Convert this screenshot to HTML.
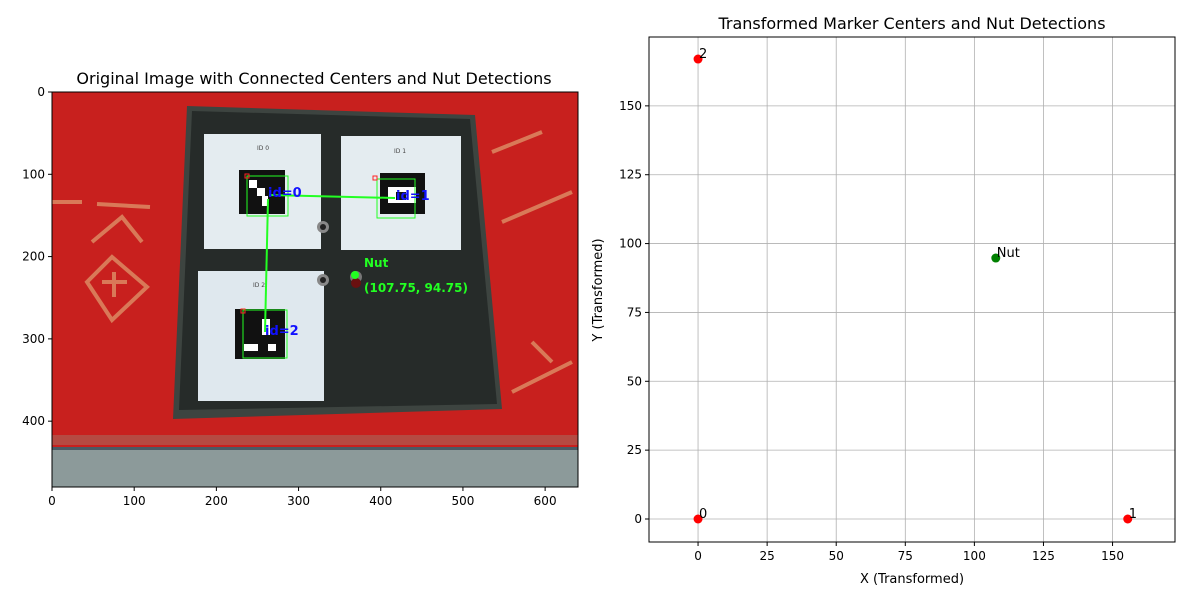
<!DOCTYPE html>
<html><head><meta charset="utf-8"><style>
body{margin:0;background:#fff;font-family:"Liberation Sans","DejaVu Sans",sans-serif}
svg text{font-family:"DejaVu Sans","Liberation Sans",sans-serif}
</style></head><body>
<svg id="fig" width="1200" height="600" xmlns="http://www.w3.org/2000/svg">
<rect width="1200" height="600" fill="#fff"/>
<text x="314" y="84" font-size="16" text-anchor="middle">Original Image with Connected Centers and Nut Detections</text>
<g transform="translate(52,92)">
  <rect width="526" height="395" fill="#c8201e"/>
  <rect y="343" width="526" height="10" fill="#b54a42"/>
  <rect y="355" width="526" height="40" fill="#8c9a9a"/>
  <rect y="355" width="526" height="3" fill="#4a5a64"/>
  <g fill="none" stroke="#e0a070" stroke-width="4" opacity="0.7">
    <path d="M0,110 L30,110 M45,112 L98,115 M40,150 L70,125 L90,150 M35,190 L60,165 L95,195 L60,228 Z M50,190 L75,190 M62,180 L62,205"/>
    <path d="M440,60 L490,40 M450,130 L520,100 M460,300 L520,270 M480,250 L500,270"/>
  </g>
  <polygon points="135,14 423,23 450,317 121,327" fill="#3d4440"/>
  <polygon points="140,19 418,27 445,312 127,318" fill="#262b29"/>
  <rect x="152" y="42" width="117" height="115" fill="#e4ecf0"/>
  <rect x="289" y="44" width="120" height="114" fill="#e4ecf0"/>
  <rect x="146" y="179" width="126" height="130" fill="#dfe8ee"/>
  <text x="205" y="58" font-size="6" fill="#444">ID 0</text>
  <text x="342" y="61" font-size="6" fill="#444">ID 1</text>
  <text x="201" y="195" font-size="6" fill="#444">ID 2</text>
  <rect x="187" y="78" width="46" height="44" fill="#111"/>
  <rect x="197" y="88" width="8" height="8" fill="#fff"/><rect x="205" y="96" width="8" height="8" fill="#fff"/><rect x="210" y="104" width="6" height="10" fill="#fff"/>
  <rect x="328" y="81" width="45" height="41" fill="#111"/>
  <rect x="336" y="95" width="28" height="16" fill="#fff"/><rect x="344" y="100" width="10" height="8" fill="#111"/>
  <rect x="183" y="217" width="50" height="50" fill="#111"/>
  <rect x="210" y="227" width="8" height="16" fill="#fff"/><rect x="192" y="252" width="14" height="7" fill="#fff"/><rect x="216" y="252" width="8" height="7" fill="#fff"/>
  <g fill="none" stroke="#2f2" stroke-width="1">
    <rect x="195" y="84" width="41" height="40"/><rect x="325" y="87" width="38" height="39"/><rect x="191" y="218" width="44" height="48"/>
  </g>
  <g fill="none" stroke="#f22" stroke-width="1"><rect x="193" y="82" width="4" height="4"/><rect x="321" y="84" width="4" height="4"/><rect x="189" y="217" width="4" height="4"/></g>
  <polyline points="217,103 343,106" stroke="#2f2" stroke-width="2" fill="none"/>
  <polyline points="216,107 213,240" stroke="#2f2" stroke-width="2" fill="none"/>
  <circle cx="271" cy="135" r="6" fill="#888"/><circle cx="271" cy="135" r="3" fill="#222"/>
  <circle cx="271" cy="188" r="6" fill="#888"/><circle cx="271" cy="188" r="3" fill="#222"/>
  <circle cx="304" cy="185" r="6" fill="#777"/><circle cx="304" cy="191" r="5" fill="#6a1010"/>
  <circle cx="303" cy="183" r="4" fill="#2f2"/>
  <g font-weight="bold" font-size="13" fill="#11f">
    <text x="216" y="105">id=0</text>
    <text x="344" y="108">id=1</text>
    <text x="213" y="243">id=2</text>
  </g>
  <g font-weight="bold" font-size="12" fill="#2f2">
    <text x="312" y="175">Nut</text>
    <text x="312" y="200">(107.75, 94.75)</text>
  </g>
</g>
<rect x="52" y="92" width="526" height="395" fill="none" stroke="#000" stroke-width="1"/>
<g id="leftTicks"></g>
<text x="912" y="29" font-size="16" text-anchor="middle">Transformed Marker Centers and Nut Detections</text>
<g id="grid"></g>
<g id="marks"></g>
<rect x="649" y="37" width="526" height="505" fill="none" stroke="#000" stroke-width="1"/>
<g id="rightTicks"></g>
<text x="912" y="583" font-size="13" text-anchor="middle">X (Transformed)</text>
<text transform="translate(602,290) rotate(-90)" font-size="13" text-anchor="middle">Y (Transformed)</text>
</svg>
<script>
const leftXTicks=[0,100,200,300,400,500,600];
const leftYTicks=[0,100,200,300,400];
const xTicks=[0,25,50,75,100,125,150];
const yTicks=[0,25,50,75,100,125,150];
const markerLabels=["0","1","2"];
const markerX=[0,155.5,0];
const markerY=[0,0,167];
const nutLabels=["Nut"];
const nutX=[107.75];
const nutY=[94.75];
const NS="http://www.w3.org/2000/svg";
function mk(t,a,p){const e=document.createElementNS(NS,t);for(const k in a)e.setAttribute(k,a[k]);p.appendChild(e);return e;}
const lx=v=>52+v*526/640, ly=v=>92+v*395/480;
const sx=v=>649+(v+17.75)*526/(172.6+17.75), sy=v=>542-(v+8.35)*505/(175+8.35);
const lt=document.getElementById('leftTicks');
leftXTicks.forEach(v=>{const x=lx(v);mk('line',{x1:x,x2:x,y1:487,y2:491,stroke:'#000'},lt);const t=mk('text',{x:x,y:505,'font-size':12,'text-anchor':'middle'},lt);t.textContent=v;

});
leftYTicks.forEach(v=>{const y=ly(v);mk('line',{x1:48,x2:52,y1:y,y2:y,stroke:'#000'},lt);const t=mk('text',{x:45,y:y+4,'font-size':12,'text-anchor':'end'},lt);t.textContent=v;

});
const g=document.getElementById('grid'),rt=document.getElementById('rightTicks');
xTicks.forEach(v=>{const x=sx(v);const l=mk('line',{x1:x,x2:x,y1:37,y2:542,stroke:'#b0b0b0','stroke-width':0.8},g);


mk('line',{x1:x,x2:x,y1:542,y2:546,stroke:'#000'},rt);const t=mk('text',{x:x,y:560,'font-size':12,'text-anchor':'middle'},rt);t.textContent=v;

});
yTicks.forEach(v=>{const y=sy(v);const l=mk('line',{x1:649,x2:1175,y1:y,y2:y,stroke:'#b0b0b0','stroke-width':0.8},g);


mk('line',{x1:645,x2:649,y1:y,y2:y,stroke:'#000'},rt);const t=mk('text',{x:642,y:y+4,'font-size':12,'text-anchor':'end'},rt);t.textContent=v;

});
const m=document.getElementById('marks');
markerX.forEach((v,i)=>{const c=mk('circle',{cx:sx(v),cy:sy(markerY[i]),r:4.5,fill:'#ff0000'},m);


const t=mk('text',{x:sx(v)+1,y:sy(markerY[i])-1,'font-size':13},m);t.textContent=markerLabels[i];

});
nutX.forEach((v,i)=>{const c=mk('circle',{cx:sx(v),cy:sy(nutY[i]),r:4.5,fill:'#008000'},m);


const t=mk('text',{x:sx(v)+1,y:sy(nutY[i])-1,'font-size':13},m);t.textContent=nutLabels[i];

});
</script>
</body></html>
